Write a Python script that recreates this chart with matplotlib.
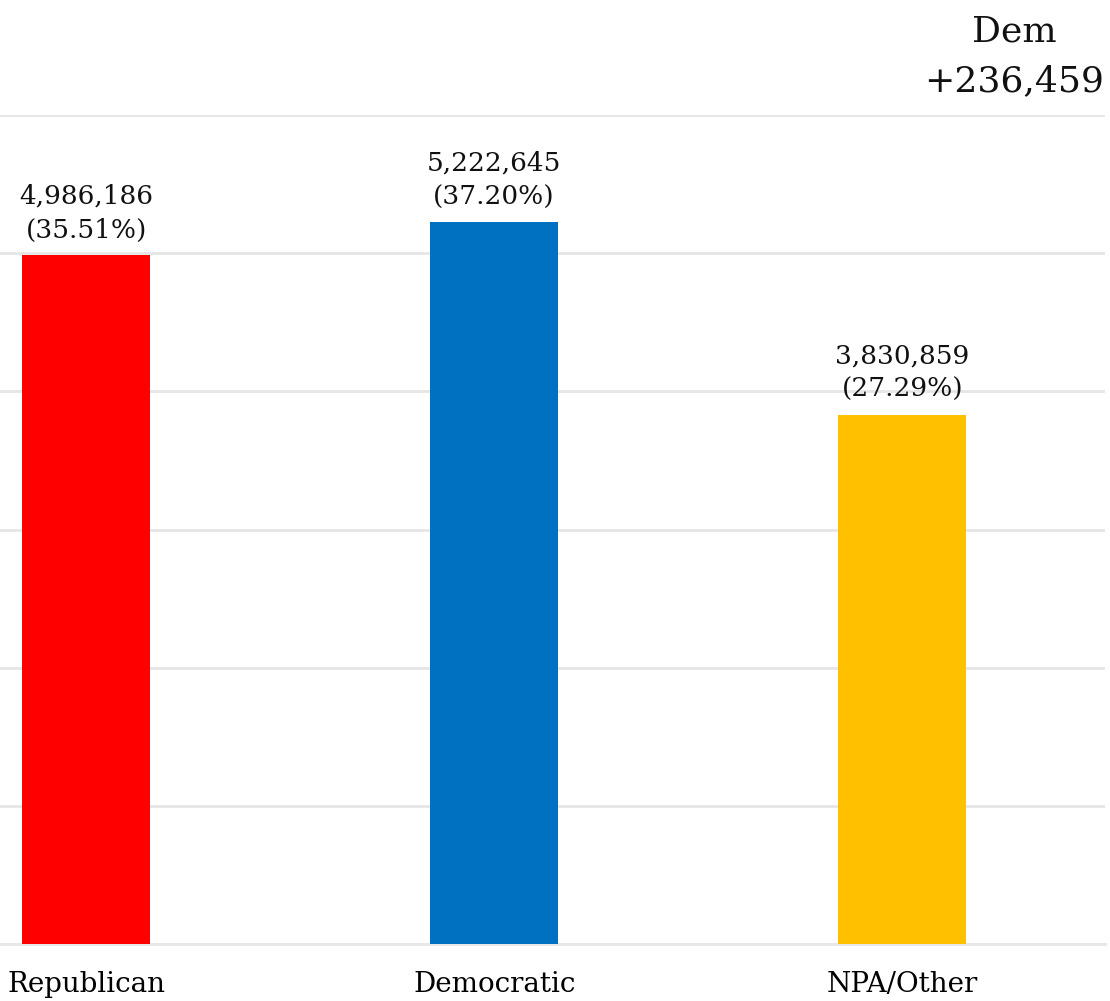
import matplotlib
matplotlib.use("Agg")
import matplotlib.pyplot as plt

## Data
parties = ["Republican", "Democratic", "NPA/Other"]
voters = [4986186, 5222645, 3830859]
shares = [35.51, 37.20, 27.29]
bar_colors = ["#ff0000", "#0070c0", "#ffc000"]

plt.rcParams['font.family'] = ['DejaVu Serif']

fig = plt.figure(figsize=(11.10, 10.01), dpi=100)
ax = fig.add_axes([0, 57/1001, 1105/1110, (944-115)/1001])

x = range(len(parties))
ax.bar(x, voters, width=0.314, color=bar_colors, zorder=3)

for i, (v, s) in enumerate(zip(voters, shares)):
    ax.annotate(f"{v:,}\n({s:.2f}%)", (i, v), xytext=(0, 9), textcoords="offset points",
                ha="center", va="bottom", fontsize=19, linespacing=1.45, color="#111111")

ax.set_xlim(-0.211, 2.497)
ax.set_yticks(range(0, 7000001, 1000000))
ax.set_ylim(0, 6e6)
ax.yaxis.grid(True, color="#e6e6e6", linewidth=2, zorder=0)
ax.tick_params(axis="y", left=False, labelleft=False)
ax.tick_params(axis="x", bottom=False, labelsize=20, pad=16)
ax.set_xticks(list(x))
ax.set_xticklabels(parties)
for sp in ["top", "right", "left"]:
    ax.spines[sp].set_visible(False)
ax.spines["bottom"].set_color("#e6e6e6")
ax.spines["bottom"].set_linewidth(2)

# margin annotation
lead = voters[1] - voters[0]
ax.annotate(f"Dem\n+{lead:,}", (2.275, 6e6), xytext=(0, 12), textcoords="offset points",
            ha="center", va="bottom", fontsize=26, linespacing=1.6, color="#111111",
            annotation_clip=False)

plt.savefig("out.png", dpi=100)
